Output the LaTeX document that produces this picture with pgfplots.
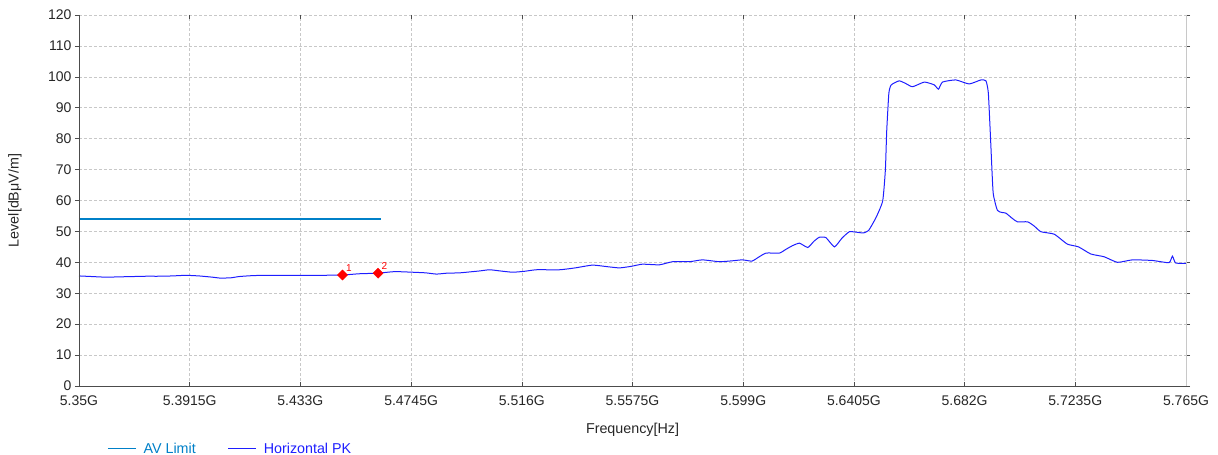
\documentclass[border=0pt]{standalone}
\usepackage{pgfplots}
\pgfplotsset{compat=1.18}
\usepackage{fontspec}
\setmainfont{Liberation Sans}
\definecolor{avc}{RGB}{0,128,200}
\definecolor{pkc}{RGB}{30,30,255}
\definecolor{gridc}{RGB}{200,200,200}
\begin{document}
\begin{tikzpicture}
\useasboundingbox (-79pt,-69pt) rectangle (1139pt,386pt);
\begin{axis}[
  at={(0pt,0pt)}, anchor=south west,
  scale only axis, width=1107pt, height=371pt,
  xmin=5.35, xmax=5.765, ymin=0, ymax=120,
  xtick={5.35,5.3915,5.433,5.4745,5.516,5.5575,5.599,5.6405,5.682,5.7235,5.765},
  xticklabels={5.35G,5.3915G,5.433G,5.4745G,5.516G,5.5575G,5.599G,5.6405G,5.682G,5.7235G,5.765G},
  ytick={0,10,...,120},
  /pgf/number format/assume math mode=true,
  ticklabel style={font=\fontsize{14}{16}\selectfont, text=black!85},
  xtick align=inside, ytick align=outside,
  major tick length=4pt,
  tick style={black!70, line width=0.6pt},
  xticklabel style={yshift=-6pt},
  grid=major,
  major grid style={gridc, dash pattern=on 3pt off 2pt, line width=0.6pt},
  axis line style={draw=none},
  xlabel={Frequency[Hz]},
  ylabel={Level[dBμV/m]},
  label style={font=\fontsize{14.3}{16}\selectfont, text=black!85},
  xlabel style={at={(axis description cs:0.5,-0.1186)}, anchor=center},
  ylabel style={at={(axis description cs:-0.0578,0.5)}, anchor=center, rotate=0},
  legend style={at={(axis description cs:0.0225,-0.169)}, anchor=west, draw=none, fill=none,
    legend columns=2, font=\fontsize{14.3}{16}\selectfont,
    /tikz/every even column/.append style={column sep=30pt}},
  legend cell align=left,
  legend image code/.code={\draw[#1] (0pt,0pt) -- (28pt,0pt); \path (33pt,0pt);},
  clip=false,
]
\addplot[avc, line width=1.5pt] coordinates {(5.35,54) (5.4631,54)};
\addlegendentry{\textcolor{avc}{AV Limit}}
\addplot[pkc, line width=1pt, smooth, tension=0.3] coordinates {
(5.3500,35.6) (5.3550,35.4) (5.3600,35.2) (5.3650,35.3) (5.3700,35.4) (5.3750,35.5)
(5.3800,35.5) (5.3850,35.6) (5.3900,35.8) (5.3950,35.6) (5.4000,35.2) (5.4030,34.9)
(5.4070,35.0) (5.4100,35.4) (5.4150,35.7) (5.4200,35.8) (5.4300,35.8) (5.4400,35.8)
(5.4488,35.9) (5.4550,36.3) (5.4621,36.5) (5.4684,37.0) (5.4750,36.8) (5.4800,36.6)
(5.4840,36.2) (5.4880,36.5) (5.4927,36.6) (5.5000,37.2) (5.5039,37.6) (5.5080,37.2)
(5.5126,36.8) (5.5170,37.1) (5.5215,37.6) (5.5302,37.6) (5.5360,38.2) (5.5425,39.1)
(5.5480,38.6) (5.5526,38.2) (5.5570,38.7) (5.5612,39.4) (5.5676,39.2) (5.5725,40.2)
(5.5789,40.2) (5.5837,40.8) (5.5901,40.2) (5.5950,40.5) (5.5987,40.8) (5.6023,40.4)
(5.6050,41.8) (5.6076,43.0) (5.6126,43.0) (5.6150,44.2) (5.6175,45.4) (5.6201,46.2)
(5.6232,44.8) (5.6255,46.8) (5.6275,48.1) (5.6300,48.0) (5.6332,45.0) (5.6360,47.8)
(5.6388,49.9) (5.6419,49.7) (5.6440,49.5) (5.6460,50.3) (5.6488,54.5) (5.6513,59.9)
(5.6523,70.0) (5.6528,82.5) (5.6536,94.7) (5.6545,97.4) (5.6575,98.7) (5.6600,97.8)
(5.6625,96.8) (5.6669,98.3) (5.6706,97.4) (5.6722,96.0) (5.6737,98.3) (5.6787,99.0)
(5.6837,97.7) (5.6881,99.0) (5.6900,98.7) (5.6909,94.7) (5.6918,78.6) (5.6927,62.5)
(5.6943,56.8) (5.6962,56.1) (5.6975,55.9) (5.6999,54.2) (5.7018,53.1) (5.7056,53.1)
(5.7080,51.8) (5.7106,49.9) (5.7156,49.1) (5.7205,45.9) (5.7247,45.0) (5.7293,42.7)
(5.7343,41.8) (5.7393,40.0) (5.7449,40.8) (5.7524,40.6) (5.7586,39.9) (5.7599,42.0)
(5.7611,39.8) (5.7650,39.7)
};
\addlegendentry{\textcolor{pkc}{Horizontal PK}}
\addplot[only marks, mark=square*, mark size=3.6pt, mark options={rotate=45}, red, forget plot,
  nodes near coords, point meta=explicit symbolic,
  every node near coord/.append style={font=\fontsize{10}{11}\selectfont, text=red, anchor=south west, xshift=0pt, yshift=0pt, rotate=0}]
  coordinates {(5.4488,35.9)[1] (5.4621,36.5)[2]};
\draw[black!70, line width=0.8pt] (rel axis cs:0,0) -- (rel axis cs:0,1);
\draw[black!70, line width=0.8pt] (rel axis cs:0,0) -- (rel axis cs:1,0);
\draw[gridc, line width=0.8pt] (rel axis cs:1,0) -- (rel axis cs:1,1);
\end{axis}
\end{tikzpicture}
\end{document}
